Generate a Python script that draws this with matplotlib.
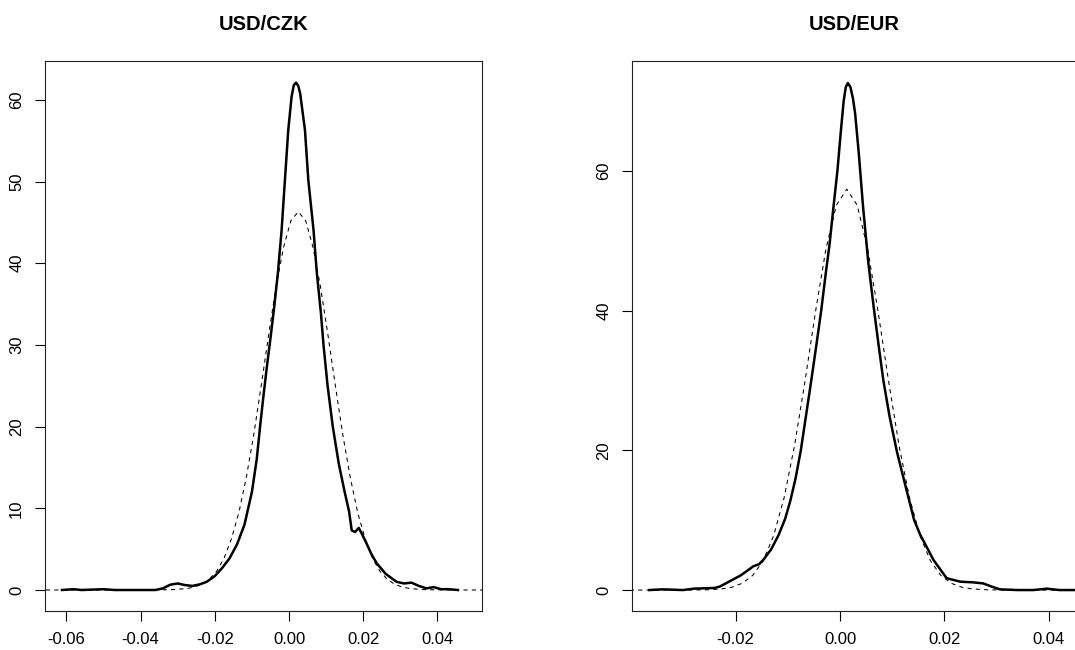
import matplotlib
matplotlib.use("Agg")
import matplotlib.pyplot as plt

plt.rcParams["font.family"] = ["Liberation Sans", "DejaVu Sans"]

# USD/CZK: kernel density of daily returns (solid) and fitted normal (dashed)
czk_kde_x = [-0.0612, -0.058, -0.056, -0.053, -0.050, -0.047, -0.044, -0.040, -0.036,
             -0.034, -0.032, -0.030, -0.028, -0.026, -0.024, -0.0222, -0.020, -0.018,
             -0.016, -0.014, -0.012, -0.010, -0.0087, -0.0078, -0.0069, -0.0060, -0.0050,
             -0.0040, -0.0030, -0.0020, -0.0011, -0.0002, 0.0007, 0.0013, 0.0019, 0.0025,
             0.0030, 0.0043, 0.0052, 0.0066, 0.0075, 0.0086, 0.0093, 0.0104, 0.0118,
             0.0134, 0.0150, 0.0162, 0.0169, 0.0178, 0.0188, 0.0195, 0.0209, 0.0222,
             0.0236, 0.026, 0.029, 0.031, 0.033, 0.035, 0.037, 0.039, 0.041, 0.043, 0.0455]
czk_kde_y = [0.0, 0.1, 0.0, 0.05, 0.1, 0.0, 0.0, 0.0, 0.0,
             0.2, 0.65, 0.8, 0.6, 0.5, 0.7, 1.0, 1.7, 2.7,
             3.9, 5.6, 8.0, 12.0, 16.0, 20.0, 23.7, 27.2, 30.8,
             34.6, 38.8, 44.0, 50.2, 56.3, 60.4, 61.8, 62.1, 61.7,
             60.8, 56.3, 50.2, 44.1, 38.8, 33.9, 30.0, 25.0, 20.0,
             15.5, 12.0, 9.6, 7.3, 7.1, 7.6, 7.0, 5.7, 4.4,
             3.3, 2.0, 1.0, 0.8, 0.9, 0.5, 0.2, 0.35, 0.1, 0.1, 0.0]

czk_norm_x = [-0.070, -0.040, -0.0315, -0.0275, -0.0255, -0.0235, -0.0215, -0.0195,
              -0.0175, -0.0155, -0.0135, -0.0115, -0.0095, -0.0075, -0.0055, -0.0035,
              -0.0015, 0.0005, 0.0025, 0.0045, 0.0065, 0.0085, 0.0105, 0.0125, 0.0145,
              0.0165, 0.0185, 0.0205, 0.0225, 0.0245, 0.0265, 0.0285, 0.0305, 0.0325,
              0.0365, 0.045, 0.060]
czk_norm_y = [0.0, 0.0, 0.04, 0.18, 0.37, 0.7, 1.3, 2.3,
              3.9, 6.3, 9.5, 13.8, 19.0, 25.0, 31.2, 37.1,
              41.9, 45.2, 46.3, 45.2, 41.9, 37.1, 31.2, 25.0, 19.0,
              13.8, 9.5, 6.3, 3.9, 2.3, 1.3, 0.7, 0.37, 0.18,
              0.04, 0.0, 0.0]

# USD/EUR
eur_kde_x = [-0.0365, -0.034, -0.032, -0.030, -0.028, -0.026, -0.024, -0.023, -0.021,
             -0.019, -0.0175, -0.0166, -0.0155, -0.0147, -0.0132, -0.0118, -0.0105,
             -0.0095, -0.0085, -0.0075, -0.0065, -0.0055, -0.0045, -0.0036, -0.0027,
             -0.0020, -0.0013, -0.0005, 0.0002, 0.0007, 0.0011, 0.0015, 0.0020, 0.0025,
             0.0029, 0.0036, 0.0044, 0.0054, 0.0065, 0.0074, 0.0083, 0.0095, 0.0109,
             0.0125, 0.0142, 0.0153, 0.0179, 0.0204, 0.023, 0.0255, 0.0274, 0.029,
             0.0306, 0.034, 0.037, 0.0396, 0.042, 0.046]
eur_kde_y = [0.0, 0.1, 0.05, 0.0, 0.2, 0.25, 0.3, 0.5, 1.3,
             2.1, 2.9, 3.4, 3.7, 4.3, 5.8, 7.8, 10.2,
             12.8, 16.0, 20.0, 25.0, 30.0, 35.2, 40.0, 45.5,
             49.5, 54.5, 60.0, 66.0, 70.0, 72.0, 72.6, 72.0, 70.3,
             68.2, 62.5, 55.0, 47.0, 40.2, 35.0, 30.0, 24.8, 19.8,
             15.0, 10.0, 8.0, 4.3, 1.7, 1.2, 1.1, 0.95, 0.5,
             0.1, 0.0, 0.0, 0.2, 0.0, 0.0]

eur_norm_x = [-0.045, -0.030, -0.0257, -0.0227, -0.0207, -0.0187, -0.0167, -0.0147,
              -0.0127, -0.0107, -0.0087, -0.0067, -0.0047, -0.0027, -0.0007, 0.0013,
              0.0033, 0.0053, 0.0073, 0.0093, 0.0113, 0.0133, 0.0153, 0.0173, 0.0193,
              0.0213, 0.0233, 0.0253, 0.0283, 0.035, 0.050]
eur_norm_y = [0.0, 0.0, 0.03, 0.16, 0.41, 0.97, 2.1, 4.2,
              7.8, 13.2, 20.7, 29.9, 39.8, 48.8, 55.1, 57.4,
              55.1, 48.8, 39.8, 29.9, 20.7, 13.2, 7.8, 4.2, 2.1,
              0.97, 0.41, 0.16, 0.03, 0.0, 0.0]

titles = ["USD/CZK", "USD/EUR"]
czk_xticks = [-0.06, -0.04, -0.02, 0.00, 0.02, 0.04]
czk_xlabels = ["-0.06", "-0.04", "-0.02", "0.00", "0.02", "0.04"]
czk_yticks = [0, 10, 20, 30, 40, 50, 60]
eur_xticks = [-0.02, 0.00, 0.02, 0.04]
eur_xlabels = ["-0.02", "0.00", "0.02", "0.04"]
eur_yticks = [0, 20, 40, 60]

fig = plt.figure(figsize=(10.75, 6.5), dpi=100)
ax1 = fig.add_axes([45 / 1075, 39 / 650, 437 / 1075, 550 / 650])
ax2 = fig.add_axes([632 / 1075, 39 / 650, 445 / 1075, 550 / 650])

panels = [
    (ax1, czk_kde_x, czk_kde_y, czk_norm_x, czk_norm_y, czk_xticks, czk_xlabels, czk_yticks,
     (-0.06577, 0.05202), (-2.57, 64.75)),
    (ax2, eur_kde_x, eur_kde_y, eur_norm_x, eur_norm_y, eur_xticks, eur_xlabels, eur_yticks,
     (-0.03981, 0.04536), (-3.0, 75.75)),
]

for (ax, kx, ky, nx, ny, xt, xl, yt, xlim, ylim), title in zip(panels, titles):
    ax.plot(kx, ky, color="black", lw=1.8, solid_joinstyle="round")
    ax.plot(nx, ny, color="black", lw=0.75, linestyle=(0, (4, 4)))
    ax.set_xlim(*xlim)
    ax.set_ylim(*ylim)
    ax.set_xticks(xt)
    ax.set_xticklabels(xl)
    ax.set_yticks(yt)
    ax.set_yticklabels([str(v) for v in yt], rotation=90, va="center")
    ax.tick_params(axis="both", direction="out", length=7, width=0.8,
                   labelsize=12, color="black")
    ax.tick_params(axis="x", pad=8)
    ax.tick_params(axis="y", pad=8)
    for sp in ax.spines.values():
        sp.set_linewidth(0.8)
        sp.set_color("#222222")
    ax.set_title(title, fontsize=14.5, fontweight="bold", pad=22)

fig.savefig("out.png", dpi=100)
plt.close(fig)
